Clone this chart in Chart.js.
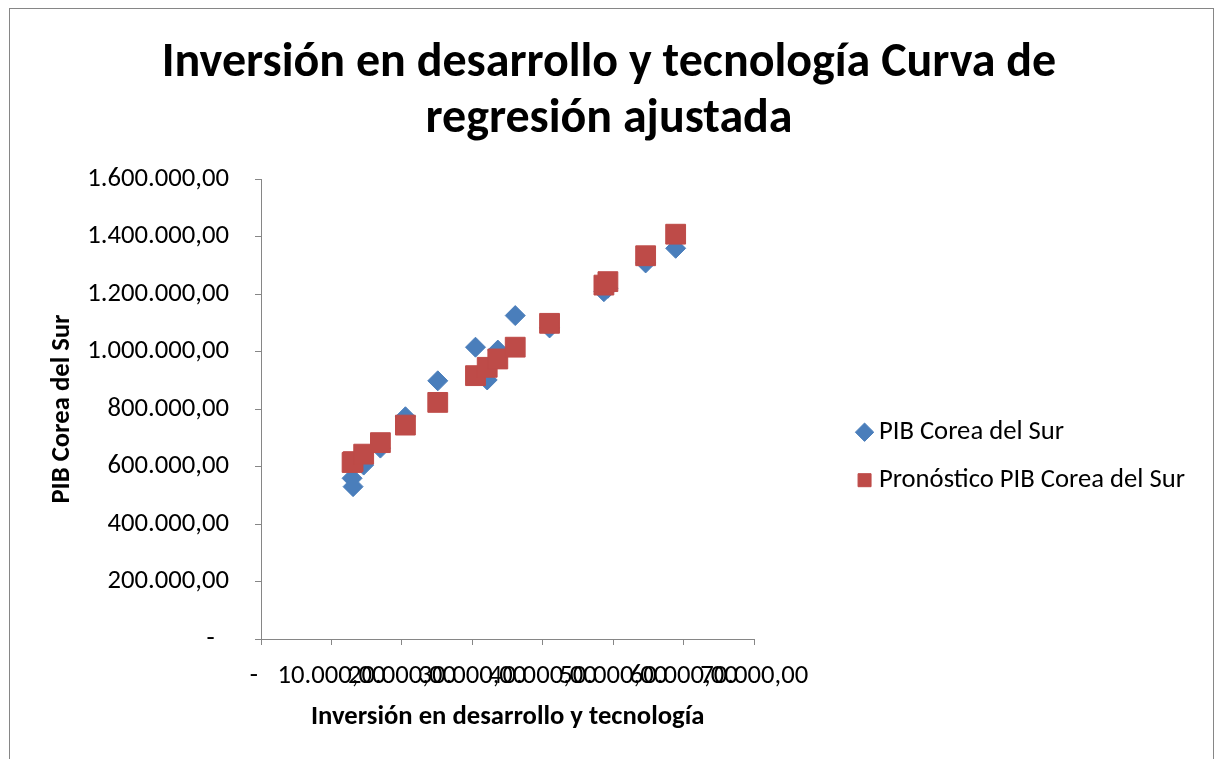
<!DOCTYPE html>
<html>
<head>
<meta charset="UTF-8">
<title>Inversión en desarrollo y tecnología</title>
<script src="https://cdn.jsdelivr.net/npm/chart.js@4.4.0/dist/chart.umd.min.js"></script>
<style>
  body { margin: 0; background: #fff; overflow: hidden; }
  #frame { position: absolute; left: 9px; top: 8px; width: 1203px; height: 800px; border: 1px solid #868686; }
  #wrap { position: absolute; left: 0; top: 0; width: 1218px; height: 759px; }
</style>
</head>
<body>
<div id="frame"></div>
<div id="wrap"><canvas id="chart"></canvas></div>

<script>
// valores
const inversion = [12926, 13068, 14574, 16946, 20497, 25085, 30440, 32102, 33608, 36080, 40952, 48665, 49233, 54588, 58849]
const pib = [559000, 530000, 605000, 664000, 773000, 898000, 1015000, 901000, 1005000, 1125000, 1082000, 1208000, 1220000, 1308000, 1359000]
const pronostico = [614000, 617000, 643000, 683000, 744000, 823000, 916000, 945000, 974000, 1015000, 1098000, 1231000, 1243000, 1333000, 1408000]

const serieNames = ['PIB Corea del Sur', 'Pronóstico PIB Corea del Sur']
const titleLines = ['Inversión en desarrollo y tecnología Curva de', 'regresión ajustada']
const xTitle = 'Inversión en desarrollo y tecnología'
const yTitle = 'PIB Corea del Sur'

const FONT = 'Carlito, Lato, sans-serif'
const SIZE = 26.67
const axisGray = '#868686'

function miles(v, dash) {
  if (v === 0) return dash
  return Math.round(v).toString().replace(/\B(?=(\d{3})+(?!\d))/g, '.') + ',00'
}

const ctx = document.querySelector('#chart').getContext('2d')
const chart = new Chart(ctx, {
  type: 'scatter',
  data: {
    datasets: [
      {
        label: serieNames[0],
        data: inversion.map((x, i) => ({ x: x, y: pib[i] })),
        pointStyle: 'rectRot',
        pointRadius: 10,
        backgroundColor: '#4a7ebb',
        borderColor: '#4a7ebb',
        borderWidth: 1,
        order: 1
      },
      {
        label: serieNames[1],
        data: inversion.map((x, i) => ({ x: x, y: pronostico[i] })),
        pointStyle: 'rect',
        pointRadius: 14,
        backgroundColor: '#be4b48',
        borderColor: '#be4b48',
        borderWidth: 1,
        order: 0
      }
    ]
  },
  options: {
    responsive: true,
    maintainAspectRatio: false,
    animation: false,
    layout: { padding: { left: 23, right: 23 } },
    plugins: {
      tooltip: { enabled: false },
      title: {
        display: true,
        text: titleLines,
        color: '#000',
        font: { family: FONT, size: 48, weight: 'bold', lineHeight: 1.1667 },
        padding: { top: 36, bottom: 31 }
      },
      legend: {
        position: 'right',
        fullSize: false,
        align: 'center',
        maxWidth: 420,
        title: { display: true, text: '', padding: { top: 80, bottom: 0 } },
        labels: {
          usePointStyle: true,
          boxWidth: 2,
          boxHeight: 13,
          padding: 21.33,
          color: '#000',
          font: { family: FONT, size: SIZE },
          sort: (a, b) => a.datasetIndex - b.datasetIndex
        }
      }
    },
    scales: {
      x: {
        type: 'linear',
        min: 0,
        max: 70000,
        afterFit: s => { s.height = 120 },
        ticks: {
          stepSize: 10000,
          autoSkip: false,
          maxRotation: 0,
          minRotation: 0,
          padding: 15,
          color: '#000',
          font: { family: FONT, size: SIZE },
          callback: v => miles(v, '-\u2007')
        },
        grid: { drawOnChartArea: false, drawTicks: true, tickLength: 6, color: axisGray },
        border: { color: axisGray },
        title: {
          display: true,
          text: xTitle,
          color: '#000',
          font: { family: FONT, size: SIZE, weight: 'bold' },
          padding: { top: 0, bottom: 26 }
        }
      },
      y: {
        type: 'linear',
        min: 0,
        max: 1600000,
        afterFit: s => { s.width = 238 },
        ticks: {
          stepSize: 200000,
          padding: 26,
          color: '#000',
          font: { family: FONT, size: SIZE },
          callback: v => miles(v, '-\u2007')
        },
        grid: { drawOnChartArea: false, drawTicks: true, tickLength: 6, color: axisGray },
        border: { color: axisGray },
        title: {
          display: true,
          text: yTitle,
          color: '#000',
          font: { family: FONT, size: SIZE, weight: 'bold' },
          padding: { top: 23, bottom: 0 }
        }
      },
      // espacio vacio entre el area del grafico y la leyenda
      gap: {
        type: 'linear',
        position: 'right',
        display: true,
        afterFit: s => { s.width = 88 },
        ticks: { display: false },
        grid: { display: false, drawTicks: false },
        border: { display: false }
      }
    }
  }
})
</script>
</body>
</html>
